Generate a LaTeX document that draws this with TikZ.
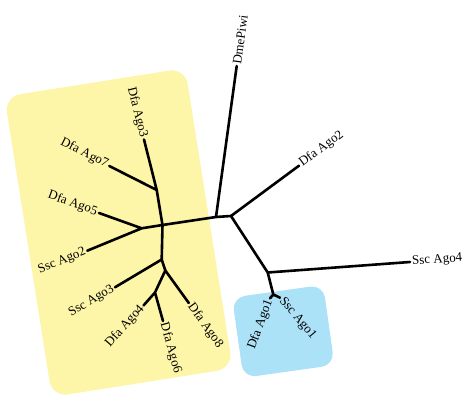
\documentclass[tikz,border=0pt]{standalone}
\usepackage{fontspec}
\setmainfont{Liberation Serif}
\definecolor{cladeyellow}{RGB}{253,245,168}
\definecolor{cladeblue}{RGB}{172,226,247}
\begin{document}
\begin{tikzpicture}[x=1pt,y=-1pt,
  branch/.style={line width=2.6pt,line cap=round,line join=round},
  leaf/.style={font=\fontsize{13}{15}\selectfont,inner sep=2pt},
  clade/.style={draw=none,rounded corners=#1,inner sep=0pt}]
\useasboundingbox (0,0) rectangle (466,396);

% shaded clades
\node[clade=16pt,fill=cladeyellow,minimum width=183pt,minimum height=304pt,rotate=9] (boxY) at (118.6,232.5) {};
\node[clade=13pt,fill=cladeblue,minimum width=92pt,minimum height=81pt,rotate=8] (boxB) at (283.3,331.3) {};

% internal nodes
\coordinate (R) at (162.5,225);
\coordinate (A) at (156.7,190);
\coordinate (F) at (141.7,228.3);
\coordinate (B) at (161.7,259.5);
\coordinate (C) at (165.3,270.5);
\coordinate (D) at (155,292.5);
\coordinate (P) at (216,217);
\coordinate (Q) at (231,216);
\coordinate (S) at (267.7,272.5);
\coordinate (T) at (273.3,294.5);

% leaf tips
\coordinate (t3) at (144,139.5);
\coordinate (t7) at (109.3,166);
\coordinate (t5) at (99,213);
\coordinate (t2s) at (87.3,250.7);
\coordinate (t3s) at (115,287.3);
\coordinate (t8) at (188.8,303);
\coordinate (t4) at (143.5,305.5);
\coordinate (t6) at (163,321);
\coordinate (tP) at (236.7,66);
\coordinate (t2) at (299,165.7);
\coordinate (t4s) at (410,262);
\coordinate (t1) at (270,298.3);
\coordinate (t1s) at (280,297.7);

% branches
\draw[branch] (R) -- (A) (A) -- (t3) (A) -- (t7);
\draw[branch] (R) -- (F) (F) -- (t5) (F) -- (t2s);
\draw[branch] (R) -- (B) (B) -- (t3s) (B) -- (C);
\draw[branch] (C) -- (t8) (C) -- (D) (D) -- (t4) (D) -- (t6);
\draw[branch] (R) -- (P) (P) -- (tP) (P) -- (Q);
\draw[branch] (Q) -- (t2) (Q) -- (S) (S) -- (t4s) (S) -- (T);
\draw[branch] (T) -- (t1) (T) -- (t1s);

% leaf labels
\node[leaf,anchor=east,rotate=-75.9] (L3) at (t3) {Dfa Ago3};
\node[leaf,anchor=east,rotate=-26.9] (L7) at (t7) {Dfa Ago7};
\node[leaf,anchor=east,rotate=-19.7] (L5) at (t5) {Dfa Ago5};
\node[leaf,anchor=east,rotate=22.4] (L2s) at (t2s) {Ssc Ago2};
\node[leaf,anchor=east,rotate=30.8] (L3s) at (t3s) {Ssc Ago3};
\node[leaf,anchor=west,rotate=-54.1] (L8) at (t8) {Dfa Ago8};
\node[leaf,anchor=east,rotate=48.5] (L4) at (t4) {Dfa Ago4};
\node[leaf,anchor=west,rotate=-74.3] (L6) at (t6) {Dfa Ago6};
\node[leaf,anchor=west,rotate=82.2] (LP) at (tP) {DmePiwi};
\node[leaf,anchor=west,rotate=36.5] (L2) at (t2) {Dfa Ago2};
\node[leaf,anchor=west,rotate=4.2] (L4s) at (t4s) {Ssc Ago4};
\node[leaf,anchor=east,rotate=70] (L1) at (t1) {Dfa Ago1};
\node[leaf,anchor=west,rotate=-50] (L1s) at (t1s) {Ssc Ago1};
\end{tikzpicture}
\end{document}
